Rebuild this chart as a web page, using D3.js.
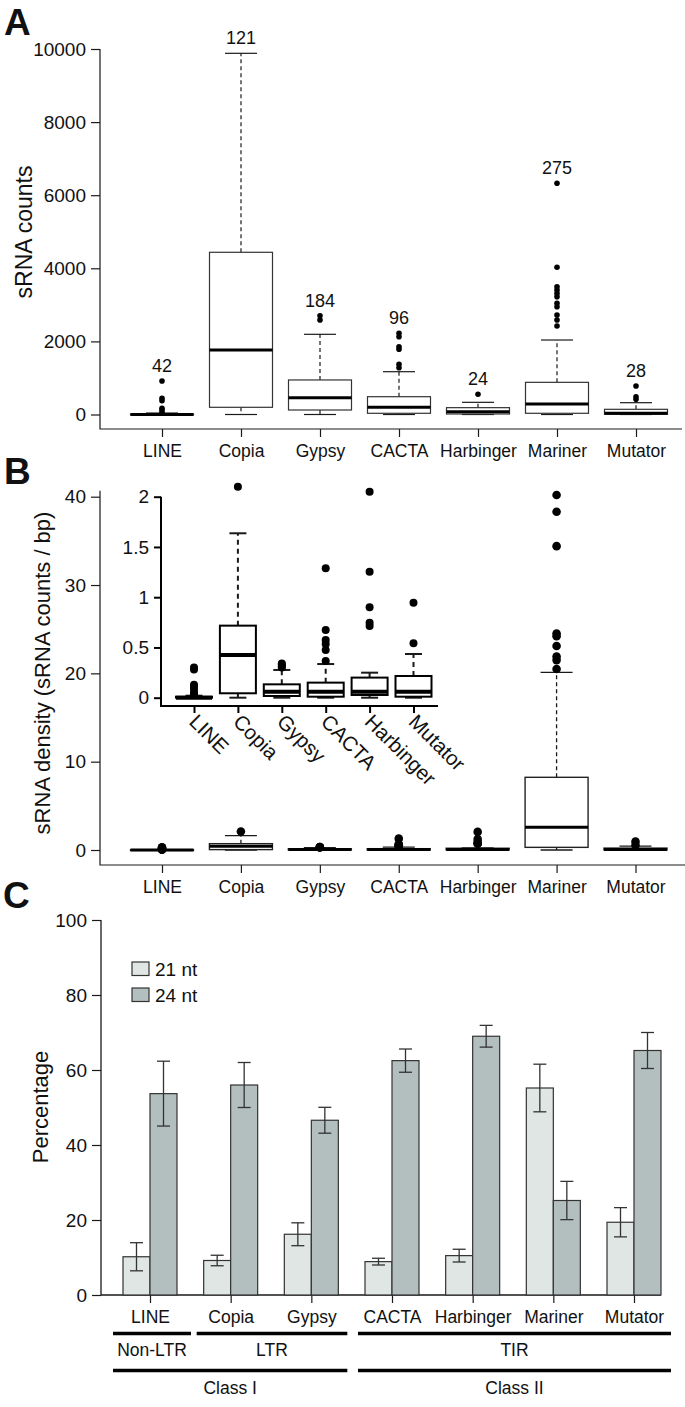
<!DOCTYPE html>
<html><head><meta charset="utf-8">
<script src="https://cdn.jsdelivr.net/npm/d3@7"></script>
<style>
body{margin:0;background:#fff}
text{font-family:"Liberation Sans",Arial,Helvetica,sans-serif;fill:#111}
</style>
</head><body>
<svg id="chart" width="685" height="1407" xmlns="http://www.w3.org/2000/svg"></svg>
<script>
// ---------------- DATA ----------------
const categories = ["LINE","Copia","Gypsy","CACTA","Harbinger","Mariner","Mutator"];

// Panel A: sRNA counts box plots
const countsN       = [42, 121, 184, 96, 24, 275, 28];
const countsLow     = [0, 0, 0, 0, 0, 0, 0];
const countsQ1      = [0, 197, 123, 33, 14, 33, 5];
const countsMedian  = [0, 1765, 460, 197, 77, 287, 33];
const countsQ3      = [8, 4438, 945, 487, 187, 880, 142];
const countsHigh    = [40, 9882, 2194, 1171, 333, 2038, 323];
const countsOutliers = [
  [917, 443, 378, 170, 123, 60],
  [],
  [2703, 2585],
  [2222, 2129, 1855, 1784, 1373, 1280],
  [552],
  [6325, 4027, 3497, 3406, 3315, 3224, 3042, 2950, 2722, 2585, 2421],
  [780, 487, 415]
];
const countsTicks = [0, 2000, 4000, 6000, 8000, 10000];

// Panel B: sRNA density box plots
const densLow     = [0, 0, 0, 0, 0, 0, 0];
const densQ1      = [0, 0.044, 0.017, 0.01, 0.027, 0.3, 0.01];
const densMedian  = [0, 0.425, 0.06, 0.06, 0.06, 2.57, 0.06];
const densQ3      = [0.01, 0.717, 0.133, 0.15, 0.2, 8.23, 0.216];
const densHigh    = [0.02, 1.636, 0.276, 0.335, 0.249, 20.1, 0.435];
const densOutliers = [
  [0.30, 0.28, 0.13, 0.11, 0.08, 0.05, 0.03],
  [2.10],
  [0.34, 0.33, 0.31, 0.30],
  [1.287, 0.674, 0.574, 0.534, 0.475, 0.365],
  [2.05, 1.254, 0.9, 0.746, 0.713],
  [40.2, 38.3, 34.4, 24.5, 24.2, 23.1, 21.9, 21.5, 20.5],
  [0.945, 0.541]
];
const densTicks = [0, 10, 20, 30, 40];
const insetCategories = ["LINE","Copia","Gypsy","CACTA","Harbinger","Mutator"];
const insetTicks = [0, 0.5, 1, 1.5, 2];

// Panel C: percentage of 21 nt / 24 nt sRNAs
const sizeSeries = ["21 nt", "24 nt"];
const pct21 = [10.2, 9.2, 16.2, 8.9, 10.5, 55.2, 19.4];
const err21 = [3.75, 1.4, 3.05, 0.9, 1.7, 6.35, 3.9];
const pct24 = [53.7, 56.0, 46.6, 62.5, 69.0, 25.2, 65.2];
const err24 = [8.65, 6.0, 3.45, 3.1, 2.9, 5.1, 4.8];
const pctTicks = [0, 20, 40, 60, 80, 100];
const orderGroups = [
  {name: "Non-LTR", from: 0, to: 0},
  {name: "LTR", from: 1, to: 2},
  {name: "TIR", from: 3, to: 6}
];
const classGroups = [
  {name: "Class I", from: 0, to: 2},
  {name: "Class II", from: 3, to: 6}
];

// ---------------- DRAW ----------------
const svg = d3.select("#chart");
const INK = "#1a1a1a";
const TICKFS = 19;

function stats(i, low, q1, med, q3, high, out) {
  return {low: low[i], q1: q1[i], med: med[i], q3: q3[i], high: high[i], out: out[i]};
}

function drawBox(g, cx, boxW, capW, s, y, o) {
  const b = g.append("g");
  b.append("line").attr("x1", cx).attr("x2", cx).attr("y1", y(s.q3)).attr("y2", y(s.high))
    .attr("stroke", INK).attr("stroke-width", o.sw).attr("stroke-dasharray", o.dash);
  b.append("line").attr("x1", cx).attr("x2", cx).attr("y1", y(s.q1)).attr("y2", y(s.low))
    .attr("stroke", INK).attr("stroke-width", o.sw).attr("stroke-dasharray", o.dash);
  [s.high, s.low].forEach(v => {
    b.append("line").attr("x1", cx - capW/2).attr("x2", cx + capW/2).attr("y1", y(v)).attr("y2", y(v))
      .attr("stroke", INK).attr("stroke-width", o.sw);
  });
  b.append("rect").attr("x", cx - boxW/2).attr("width", boxW)
    .attr("y", y(s.q3)).attr("height", Math.max(0.5, y(s.q1) - y(s.q3)))
    .attr("fill", "#fff").attr("stroke", o.boxStroke).attr("stroke-width", o.boxSw);
  b.append("line").attr("x1", cx - boxW/2).attr("x2", cx + boxW/2).attr("y1", y(s.med)).attr("y2", y(s.med))
    .attr("stroke", "#000").attr("stroke-width", o.medW);
  b.selectAll("circle").data(s.out).join("circle")
    .attr("cx", cx).attr("cy", d => y(d)).attr("r", o.r).attr("fill", "#000");
}

function yAxisLeft(g, scale, ticks, x, fmt, fs, tick) {
  const ax = g.append("g").attr("transform", `translate(${x},0)`)
    .call(d3.axisLeft(scale).tickValues(ticks).tickFormat(fmt).tickSize(tick).tickPadding(5).tickSizeOuter(0));
  ax.select(".domain").remove();
  ax.selectAll(".tick line").attr("stroke", INK).attr("stroke-width", 1.2);
  ax.selectAll(".tick text").attr("font-size", fs).attr("fill", "#111")
    .attr("font-family", "'Liberation Sans',Arial,sans-serif");
  return ax;
}

function panelLetter(t, x, y) {
  svg.append("text").attr("x", x).attr("y", y).text(t)
    .attr("font-size", 37).attr("font-weight", "bold").attr("fill", "#000");
}

// ===== Panel A =====
const gA = svg.append("g");
const xA = d3.scaleLinear().domain([0, 6]).range([162, 636]);
const yA = d3.scaleLinear().domain([0, 10000]).range([414.5, 49]);
const A_axisY = 429;
gA.append("path").attr("d", `M100,${yA(10000)}V${A_axisY}H682`).attr("fill", "none")
  .attr("stroke", INK).attr("stroke-width", 1.2);
yAxisLeft(gA, yA, countsTicks, 100, d3.format("d"), TICKFS, 9);
const axA = gA.append("g").attr("transform", `translate(0,${A_axisY})`)
  .call(d3.axisBottom(xA).tickValues(d3.range(7)).tickFormat(i => categories[i]).tickSize(8).tickPadding(8).tickSizeOuter(0));
axA.select(".domain").remove();
axA.selectAll(".tick line").attr("stroke", INK).attr("stroke-width", 1.2);
axA.selectAll(".tick text").attr("font-size", 17.5).attr("fill", "#111");

categories.forEach((c, i) => {
  const s = stats(i, countsLow, countsQ1, countsMedian, countsQ3, countsHigh, countsOutliers);
  drawBox(gA, xA(i), 63, 32, s, yA, {sw: 1.2, dash: "4,3", boxStroke: "#333", boxSw: 1.2, medW: 3, r: 2.8});
  const top = Math.max(s.high, d3.max(s.out) || 0);
  gA.append("text").attr("x", xA(i)).attr("y", yA(top) - 9).attr("text-anchor", "middle")
    .attr("font-size", 18).text(countsN[i]);
});
gA.append("text").attr("transform", `translate(32,232) rotate(-90)`).attr("text-anchor", "middle")
  .attr("font-size", 23).text("sRNA counts");
panelLetter("A", 4, 35);

// ===== Panel B =====
const gB = svg.append("g");
const xB = d3.scaleLinear().domain([0, 6]).range([162, 635.5]);
const yB = d3.scaleLinear().domain([0, 40]).range([850, 496.7]);
const B_axisY = 865;
gB.append("path").attr("d", `M100,${yB(40) - 6}V${B_axisY}H685`).attr("fill", "none")
  .attr("stroke", INK).attr("stroke-width", 1.2);
yAxisLeft(gB, yB, densTicks, 100, d3.format("d"), TICKFS, 9);
const axB = gB.append("g").attr("transform", `translate(0,${B_axisY})`)
  .call(d3.axisBottom(xB).tickValues(d3.range(7)).tickFormat(i => categories[i]).tickSize(8).tickPadding(8).tickSizeOuter(0));
axB.select(".domain").remove();
axB.selectAll(".tick line").attr("stroke", INK).attr("stroke-width", 1.2);
axB.selectAll(".tick text").attr("font-size", 17.5).attr("fill", "#111");
categories.forEach((c, i) => {
  const s = stats(i, densLow, densQ1, densMedian, densQ3, densHigh, densOutliers);
  drawBox(gB, xB(i), 63, 32, s, yB, {sw: 1.3, dash: "4,3", boxStroke: "#222", boxSw: 1.4, medW: 3, r: 4.3});
});
gB.append("text").attr("transform", `translate(50,673) rotate(-90)`).attr("text-anchor", "middle")
  .attr("font-size", 22).text("sRNA density (sRNA counts / bp)");
panelLetter("B", 4, 484);

// inset
const gI = svg.append("g");
const xI = d3.scaleLinear().domain([0, 5]).range([194, 413.5]);
const yI = d3.scaleLinear().domain([0, 2]).range([697.7, 496.7]);
const I_axisY = 706;
gI.append("path").attr("d", `M161,${yI(2)}V${I_axisY}H438`).attr("fill", "none")
  .attr("stroke", "#000").attr("stroke-width", 2);
const ayI = yAxisLeft(gI, yI, insetTicks, 161, d => String(d), TICKFS, 7);
ayI.selectAll(".tick line").attr("stroke-width", 2).attr("stroke", "#000");
const axI = gI.append("g").attr("transform", `translate(0,${I_axisY})`)
  .call(d3.axisBottom(xI).tickValues(d3.range(6)).tickFormat(() => "").tickSize(7).tickSizeOuter(0));
axI.select(".domain").remove();
axI.selectAll(".tick line").attr("stroke", "#000").attr("stroke-width", 2);
insetCategories.forEach((c, j) => {
  const i = categories.indexOf(c);
  const s = stats(i, densLow, densQ1, densMedian, densQ3, densHigh, densOutliers);
  drawBox(gI, xI(j), 36, 17, s, yI, {sw: 2, dash: "5,4", boxStroke: "#000", boxSw: 2, medW: 4, r: 4});
  gI.append("text").attr("transform", `translate(${xI(j) - 6},${I_axisY + 17}) rotate(45)`)
    .attr("font-size", 20.5).text(c);
});

// ===== Panel C =====
const gC = svg.append("g");
const xC = d3.scaleLinear().domain([0, 6]).range([150, 634]);
const yC = d3.scaleLinear().domain([0, 100]).range([1295, 920]);
const barW = 27;
const fills = ["#dfe6e3", "#b3bfbe"];
gC.append("path").attr("d", `M101,${yC(100)}V${yC(0)}H661`).attr("fill", "none")
  .attr("stroke", INK).attr("stroke-width", 1.3);
yAxisLeft(gC, yC, pctTicks, 101, d3.format("d"), TICKFS, 9);
const axC = gC.append("g").attr("transform", `translate(0,${yC(0)})`)
  .call(d3.axisBottom(xC).tickValues(d3.range(7)).tickFormat(i => categories[i]).tickSize(8).tickPadding(8).tickSizeOuter(0));
axC.select(".domain").remove();
axC.selectAll(".tick line").attr("stroke", INK).attr("stroke-width", 1.2);
axC.selectAll(".tick text").attr("font-size", 17.5).attr("fill", "#111");

const seriesVals = [pct21, pct24];
const seriesErr = [err21, err24];
seriesVals.forEach((vals, k) => {
  const gs = gC.append("g");
  gs.selectAll("rect").data(vals).join("rect")
    .attr("x", (d, i) => xC(i) + (k === 0 ? -barW : 0))
    .attr("width", barW)
    .attr("y", d => yC(d)).attr("height", d => yC(0) - yC(d))
    .attr("fill", fills[k]).attr("stroke", "#333").attr("stroke-width", 1.2);
  vals.forEach((v, i) => {
    const cx = xC(i) + (k === 0 ? -barW/2 : barW/2);
    const e = seriesErr[k][i];
    gs.append("line").attr("x1", cx).attr("x2", cx).attr("y1", yC(v + e)).attr("y2", yC(v - e))
      .attr("stroke", "#333").attr("stroke-width", 1.3);
    [v + e, v - e].forEach(w => gs.append("line").attr("x1", cx - 6.5).attr("x2", cx + 6.5)
      .attr("y1", yC(w)).attr("y2", yC(w)).attr("stroke", "#333").attr("stroke-width", 1.3));
  });
});
sizeSeries.forEach((n, k) => {
  const ly = 962 + k * 26;
  gC.append("rect").attr("x", 132).attr("y", ly).attr("width", 17).attr("height", 13.5)
    .attr("fill", fills[k]).attr("stroke", "#333").attr("stroke-width", 1.2);
  gC.append("text").attr("x", 155).attr("y", ly + 13.5).attr("font-size", 19).text(n);
});
function groupLine(grp, y, ty) {
  grp.forEach((gr) => {
    const x1 = gr.from === 0 ? 113 : xC(gr.from) - 34;
    const x2 = gr.to === 6 ? 671 : (gr.to === 0 ? 191 : xC(gr.to) + 36);
    gC.append("line").attr("x1", x1).attr("x2", x2).attr("y1", y).attr("y2", y)
      .attr("stroke", "#000").attr("stroke-width", 3.5);
    gC.append("text").attr("x", (x1 + x2) / 2).attr("y", ty).attr("text-anchor", "middle")
      .attr("font-size", 17.5).text(gr.name);
  });
}
groupLine(orderGroups, 1333.5, 1356);
groupLine(classGroups, 1370.5, 1394);
gC.append("text").attr("transform", `translate(48,1107) rotate(-90)`).attr("text-anchor", "middle")
  .attr("font-size", 22).text("Percentage");
panelLetter("C", 3, 908);
</script>
</body></html>
